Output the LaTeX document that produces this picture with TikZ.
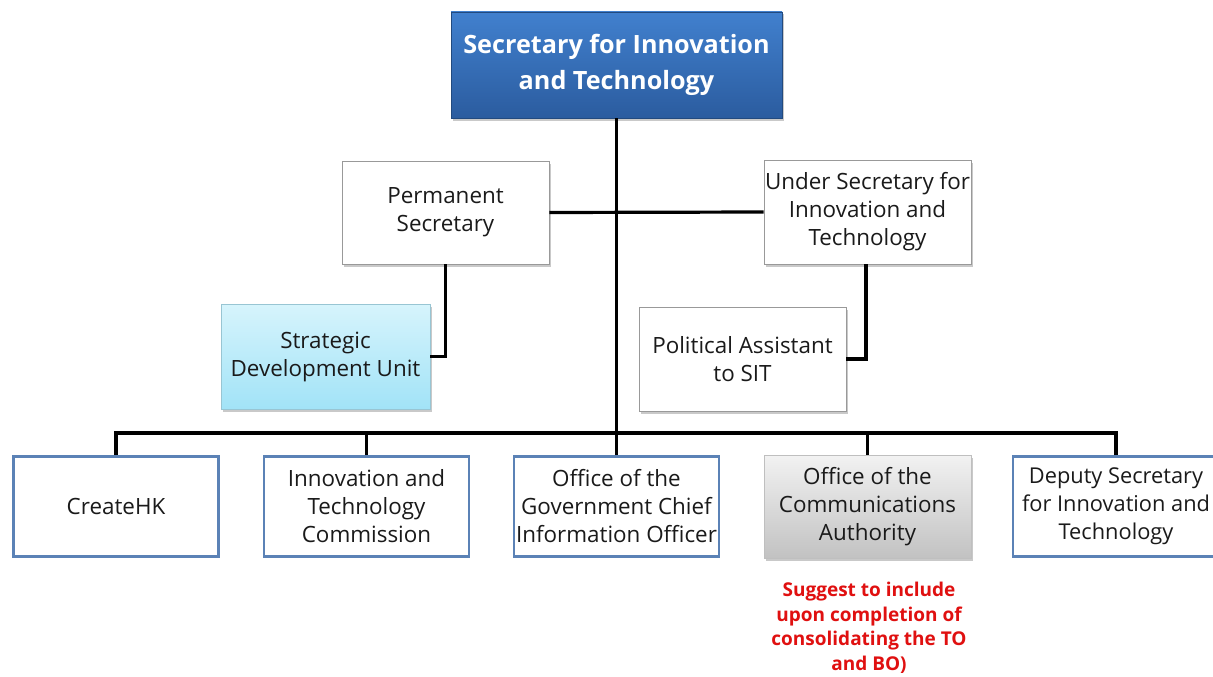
\documentclass[tikz,border=0pt]{standalone}
\usepackage{fontspec}
\setmainfont{Open Sans}
\usetikzlibrary{shadows}
\definecolor{txt}{HTML}{1A1A1A}
\definecolor{unitblue}{HTML}{5B82B6}
\definecolor{topA}{HTML}{4180CE}
\definecolor{topB}{HTML}{2B5C9F}
\definecolor{cyanA}{HTML}{D6F4FC}
\definecolor{cyanB}{HTML}{A2E3F7}
\definecolor{greyA}{HTML}{F2F2F2}
\definecolor{greyB}{HTML}{C2C2C2}
\definecolor{noteRed}{HTML}{E01010}
\begin{document}
\begin{tikzpicture}[x=1pt,y=-1pt,
  every node/.style={inner sep=0pt, align=center, text=txt},
  body/.style={font=\fontsize{22.4}{28}\selectfont},
  shade/.style={drop shadow={shadow xshift=1.5pt, shadow yshift=-2.5pt, opacity=0.35, fill=black!60}},
  office/.style={body, draw=black!40, line width=0.8pt, fill=white, shade},
  unit/.style={body, draw=unitblue, line width=2.6pt, fill=white, minimum width=205pt, minimum height=100pt},
  link/.style={line width=3.2pt, black}]
\useasboundingbox (0,0) rectangle (1213,677);
\fill[white] (0,0) rectangle (1213,677);

% head of the bureau
\node[shade, draw=topB!80!black, line width=0.6pt, top color=topA, bottom color=topB,
      minimum width=331pt, minimum height=106pt, text=white,
      font=\bfseries\fontsize{25.2}{36}\selectfont] (sit) at (616.5,65)
  {Secretary for Innovation\\and Technology};

% second tier
\node[office, minimum width=207pt, minimum height=103pt] (ps) at (445.5,212.5)
  {Permanent\\Secretary};
\node[office, minimum width=207pt, minimum height=104pt] (us) at (867.5,212)
  {Under Secretary for\\Innovation and\\Technology};

% supporting posts
\node[body, shade, draw=cyanB!70!gray, line width=0.8pt, top color=cyanA, bottom color=cyanB,
      minimum width=209pt, minimum height=105pt] (sdu) at (325.5,356.5)
  {Strategic\\Development Unit};
\node[office, minimum width=207pt, minimum height=104pt] (pa) at (742.5,359)
  {Political Assistant\\to SIT};

% departments
\node[unit] (chk) at (116,506.5) {CreateHK};
\node[unit] (itc) at (366.5,506.5) {Innovation and\\Technology\\Commission};
\node[unit] (ogcio) at (616.5,506.5) {Office of the\\Government Chief\\Information Officer};
\node[body, shade, draw=black!25, line width=0.6pt, top color=greyA, bottom color=greyB,
      minimum width=207pt, minimum height=103pt] (ofca) at (867.5,506.5)
  {Office of the\\Communications\\Authority};
\node[unit, minimum width=206pt, font=\fontsize{21.8}{28}\selectfont] (dsit) at (1116,506.5)
  {Deputy Secretary\\for Innovation and\\Technology};

\node[anchor=north, text=noteRed, font=\bfseries\fontsize{19}{24.5}\selectfont] (note) at (869,582)
  {Suggest to include\\upon completion of\\consolidating the TO\\and BO)};

% reporting lines
\coordinate (bus) at (616.5,433);
\draw[link] (sit.south) -- (bus);
\draw[link] (ps.east) -- (us.west);
\draw[link] (ps.south) |- (sdu.east);
\draw[link] ([xshift=-1.5pt]us.south) |- (pa.east);
\draw[link] (dsit.north) |- (bus) -| (chk.north);
\draw[link] (itc.north) -- (itc.north |- bus);
\draw[link] (ogcio.north) -- (bus);
\draw[link] (ofca.north) -- (ofca.north |- bus);
\end{tikzpicture}
\end{document}
